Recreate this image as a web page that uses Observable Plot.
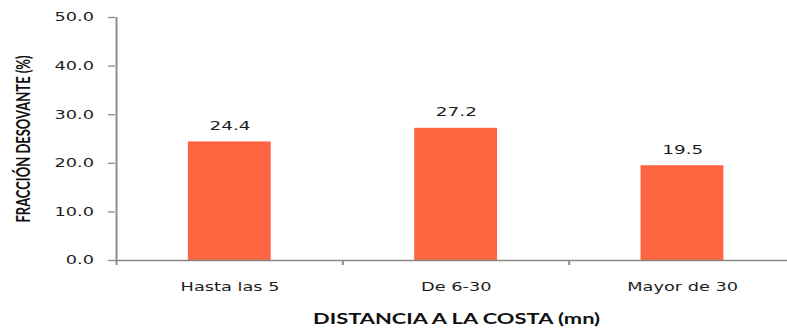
<!DOCTYPE html>
<html>
<head>
<meta charset="utf-8">
<script src="https://cdn.jsdelivr.net/npm/d3@7"></script>
<script src="https://cdn.jsdelivr.net/npm/@observablehq/plot@0.6"></script>
<style>
  html, body { margin: 0; padding: 0; background: #fff; overflow: hidden; }
  #chart { width: 787px; height: 329px; overflow: hidden; }
  #chart svg { transform-origin: 0 0; display: block; max-width: none; }
</style>
</head>
<body>
<div id="chart"></div>
<script>
const categories = ["Hasta las 5", "De 6-30", "Mayor de 30"];
const values = [24.4, 27.2, 19.5];
const yTicks = [0, 10, 20, 30, 40, 50];
const yTitle = "FRACCIÓN DESOVANTE (%)";
const xTitle = "DISTANCIA A LA COSTA (mn)";

const data = categories.map((c, i) => ({cat: c, value: values[i]}));

// The reference is drawn horizontally stretched; draw narrower and stretch.
const S = 1.4793;
const W = 532, H = 329;
const x0 = 77.7, x1 = 538.1;
const step = (x1 - x0) / categories.length;
const axisColor = "#898989";
const textColor = "#1e1e1e";

const chart = Plot.plot({
  width: W,
  height: H,
  marginLeft: x0,
  marginRight: 0,
  marginTop: 17,
  marginBottom: 69,
  style: {fontFamily: "'DejaVu Sans', Verdana, sans-serif", fontSize: "12px", color: textColor, background: "#fff", overflow: "visible"},
  x: {domain: categories, range: [x0, x1], paddingInner: 0.634, paddingOuter: 0.317, label: null, axis: null},
  y: {domain: [0, 50], label: null, axis: null},
  marks: [
    Plot.barY(data, {x: "cat", y: "value", fill: "#FF6540"}),
    Plot.ruleY([0], {stroke: axisColor, strokeWidth: 1.7}),
    Plot.ruleX([categories[0]], {x: d => d, y1: 0, y2: 50, dx: -step / 2, stroke: axisColor, strokeWidth: 1.3}),
    Plot.ruleX(categories, {x: d => d, y1: 0, y2: 0, insetBottom: -5, dx: -step / 2, stroke: axisColor, strokeWidth: 1.3}),
    Plot.axisY({ticks: yTicks, tickFormat: d => d.toFixed(1), tickSize: 4.7, tickPadding: 10, stroke: axisColor, color: textColor, label: null, strokeWidth: 1.3}),
    Plot.axisX({tickSize: 0, tickPadding: 21.5, color: textColor, label: null}),
    Plot.text(data, {x: "cat", y: "value", text: d => d.value.toFixed(1), dy: -16, fill: textColor, fontSize: 12.5}),
    Plot.text([yTitle], {frameAnchor: "left", textAnchor: "middle", lineAnchor: "middle", rotate: -90, dx: -62.2, text: d => d, fontFamily: "Lato, sans-serif", fontWeight: "bold", fontSize: 13, fill: "#111"}),
    Plot.text([xTitle], {frameAnchor: "bottom", textAnchor: "middle", lineAnchor: "middle", dx: 3.3, dy: 59, text: d => d, fontFamily: "Lato, sans-serif", fontWeight: "bold", fontSize: 14.8, fill: "#111"})
  ]
});
chart.style.transform = `scale(${S}, 1)`;
document.getElementById("chart").appendChild(chart);
</script>
</body>
</html>
